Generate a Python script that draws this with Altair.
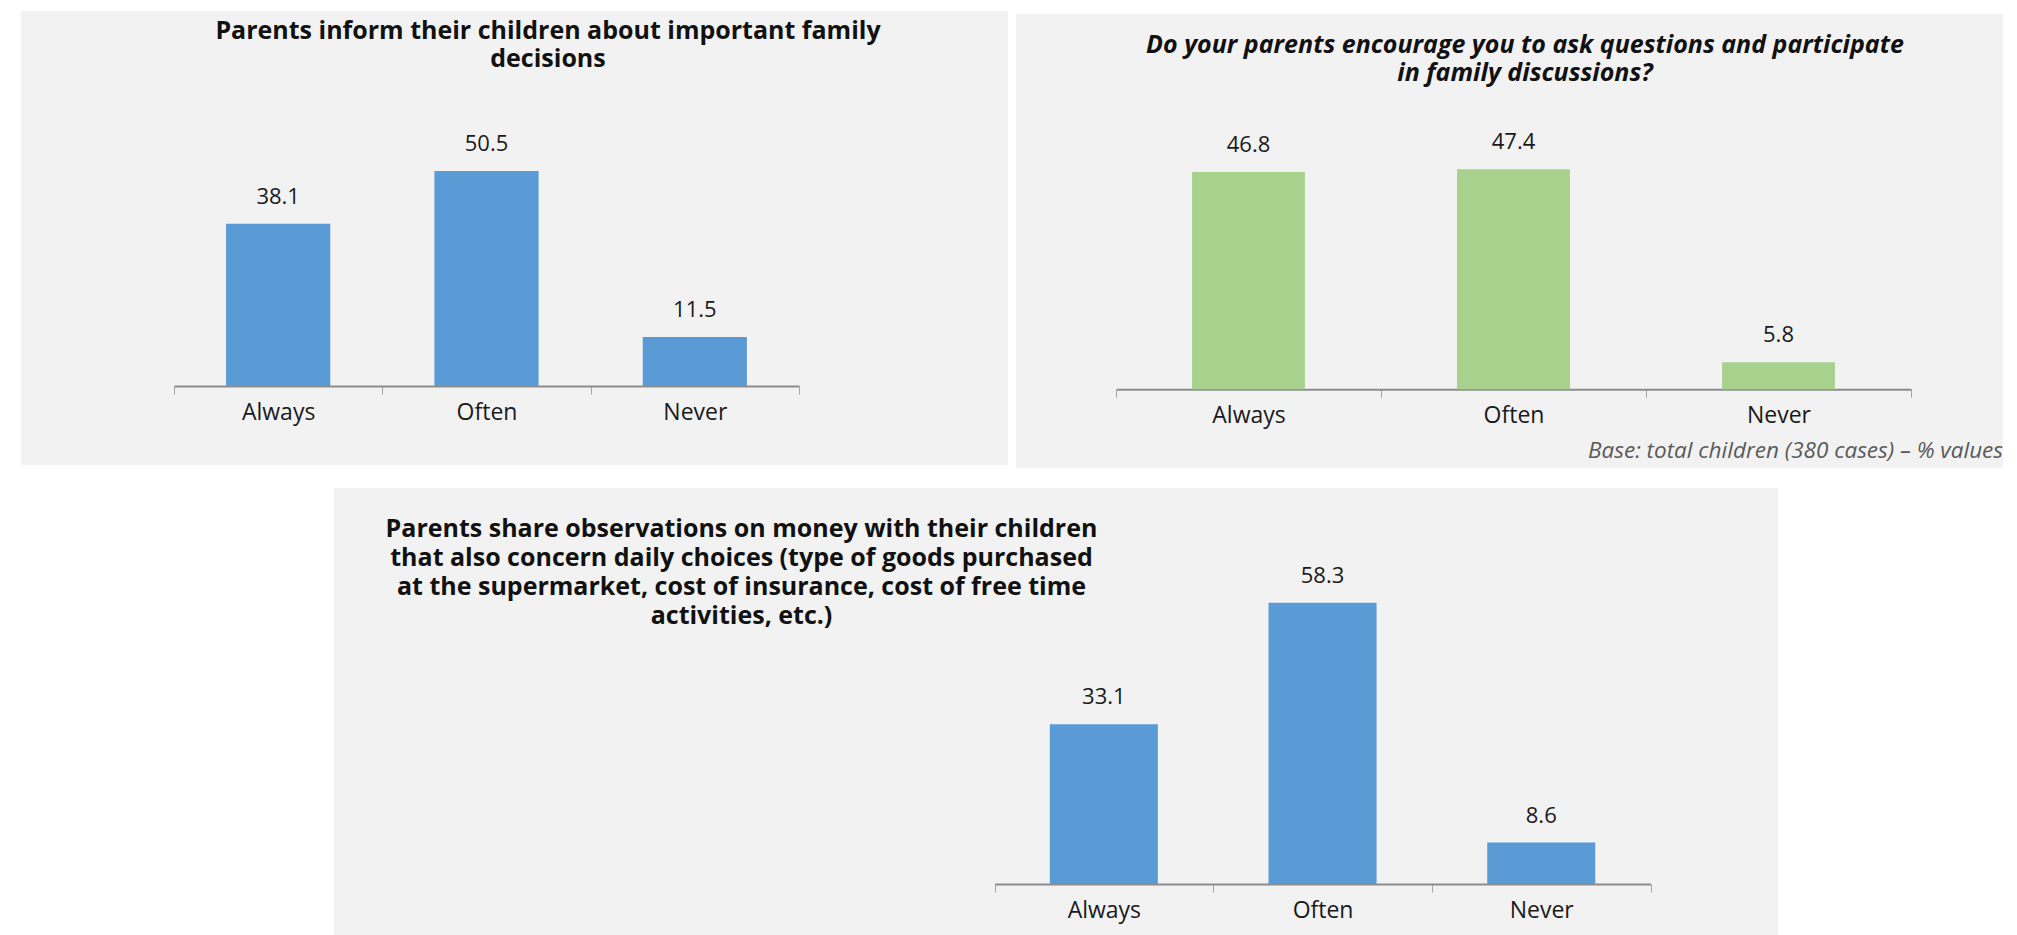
import altair as alt
import pandas as pd

categories = ["Always", "Often", "Never"]
inform_values = [38.1, 50.5, 11.5]
encourage_values = [46.8, 47.4, 5.8]
share_values = [33.1, 58.3, 8.6]

title1 = ["Parents inform their children about important family", "decisions"]
title2 = ["Do your parents encourage you to ask questions and participate",
          "in family discussions?"]
title3 = ["Parents share observations on money with their children",
          "that also concern daily choices (type of goods purchased",
          "at the supermarket, cost of insurance, cost of free time",
          "activities, etc.)"]
footnote = "Base: total children (380 cases) \u2013 % values"

FONT = "Open Sans"
BG = "#F2F2F2"
BLUE = "#5B9BD5"
GREEN = "#A9D18E"
TXT = "#1a1a1a"


def panel(values, color, width, height, x_range, axis_y, y_top, bar_band,
          title_lines, title_x, title_y, line_h, italic=False, note=None, note_y=0):
    df = pd.DataFrame({"cat": categories, "val": values})
    x = alt.X(
        "cat:N", sort=categories, title=None,
        scale=alt.Scale(range=x_range, paddingInner=0, paddingOuter=0),
        axis=alt.Axis(orient="bottom", offset=-(height - axis_y), labelAngle=0,
                      labelFont=FONT, labelFontSize=23, labelColor=TXT,
                      labelBaseline="alphabetic", labelPadding=25,
                      tickBand="extent", tickSize=8, tickColor="#A6A6A6", tickWidth=1,
                      domainColor="#8C8C8C", domainWidth=2, grid=False),
    )
    y = alt.Y("val:Q", scale=alt.Scale(domain=[0, 60], range=[axis_y, y_top]), axis=None)
    base = alt.Chart(df)
    bars = base.mark_bar(color=color, width=alt.RelativeBandSize(bar_band)).encode(x=x, y=y)
    labels = base.mark_text(font=FONT, fontSize=22, baseline="alphabetic", dy=-20,
                            color=TXT).encode(x=x, y=y, text=alt.Text("val:Q", format=".1f"))
    one = alt.Chart(pd.DataFrame({"k": [0]}))
    title = one.mark_text(font=FONT, fontSize=25, fontWeight="bold",
                          fontStyle="italic" if italic else "normal",
                          align="center", baseline="alphabetic", lineHeight=line_h,
                          color="#111111").encode(
        x=alt.value(title_x), y=alt.value(title_y), text=alt.value(title_lines))
    layers = [bars, labels, title]
    if note is not None:
        layers.append(one.mark_text(font=FONT, fontSize=22.5, fontStyle="italic",
                                    align="right", baseline="alphabetic",
                                    color="#595959").encode(
            x=alt.value(width), y=alt.value(note_y), text=alt.value(note)))
    return alt.layer(*layers).properties(
        width=width, height=height,
        view=alt.ViewBackground(fill=BG, strokeWidth=0))


def spacer(w, h):
    return alt.Chart(pd.DataFrame({"v": [0]})).mark_point(size=0, opacity=0).encode(
        x=alt.X("v:Q", axis=None), y=alt.Y("v:Q", axis=None)
    ).properties(width=w, height=h)


p1 = panel(inform_values, BLUE, 987, 454, [153, 778], 375, 119.6, 0.5,
           title1, 527, 28.3, 28)
p2 = panel(encourage_values, GREEN, 987, 454, [100, 895], 375.3, 96.6, 0.426,
           title2, 509, 39.3, 28, italic=True, note=footnote, note_y=444.3)
p3 = panel(share_values, BLUE, 1444, 447, [660.5, 1316.6], 396, 106.5, 0.494,
           title3, 407.5, 48.7, 29)

chart = alt.vconcat(
    alt.hconcat(p1, alt.vconcat(spacer(1, 3), p2, spacing=0), spacing=8),
    alt.hconcat(spacer(313, 10), p3, spacing=0),
    spacing=20,
).properties(
    padding={"left": 21, "top": 11, "right": 0, "bottom": 0},
    background="white",
).configure_view(strokeWidth=0)

chart.save("out.html", embed_options={"renderer": "svg", "actions": False})
